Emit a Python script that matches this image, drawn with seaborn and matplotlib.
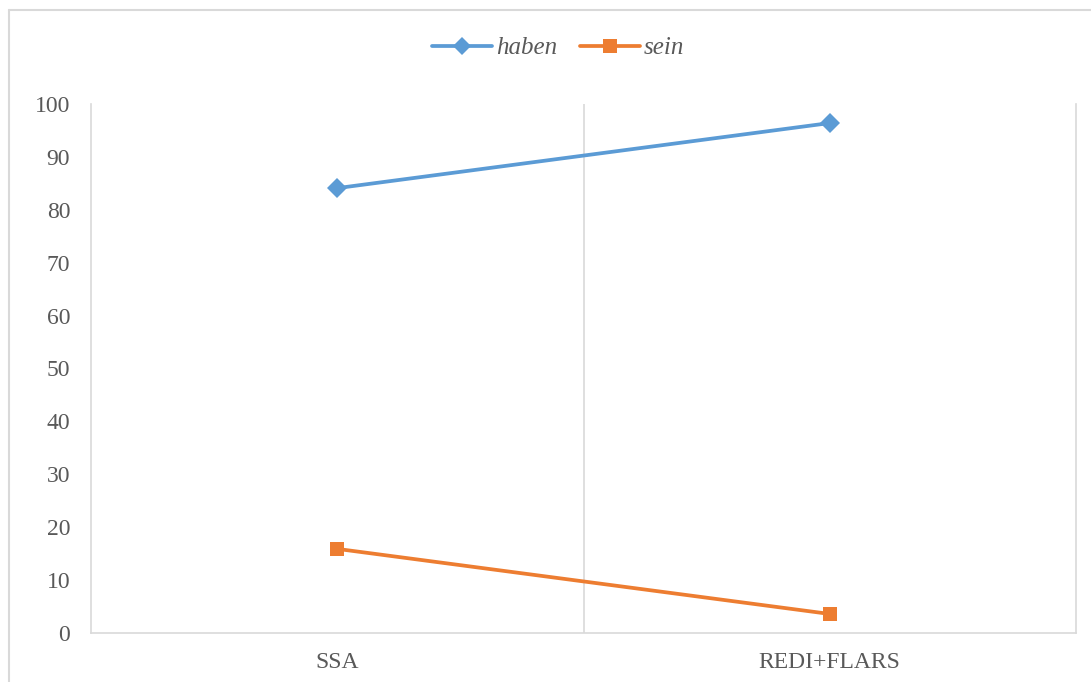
import matplotlib
matplotlib.use("Agg")
import matplotlib.pyplot as plt
from matplotlib.lines import Line2D
import seaborn as sns
import pandas as pd

# Share of auxiliaries per corpus
categories = ["SSA", "REDI+FLARS"]
haben = [84.1, 96.4]
sein = [15.9, 3.6]
series_names = ["haben", "sein"]
yticks = list(range(0, 101, 10))

df = pd.DataFrame({
    "corpus": categories * 2,
    "value": haben + sein,
    "aux": [series_names[0]] * 2 + [series_names[1]] * 2,
})

sns.set_theme(style="white")
plt.rcParams["font.family"] = ["Liberation Serif", "DejaVu Serif"]

blue = "#5B9BD5"
orange = "#ED7D31"
frame = "#D9D9D9"
text_c = "#595959"

fig = plt.figure(figsize=(10.91, 6.82), dpi=100)
ax = fig.add_axes([91 / 1091, 49 / 682, 985 / 1091, 529 / 682])

sns.lineplot(
    data=df, x="corpus", y="value", hue="aux", style="aux",
    palette={"haben": blue, "sein": orange},
    markers={"haben": "D", "sein": "s"}, dashes=False,
    linewidth=2.7, markersize=10.5, markeredgewidth=0,
    ax=ax, legend=False, sort=False,
)

ax.set_xlim(-0.5, 1.5)
ax.set_ylim(0, 100)
ax.set_yticks(yticks)
ax.set_xticks(range(len(categories)))
ax.set_xticklabels(categories)
ax.set_xlabel("")
ax.set_ylabel("")
ax.axvline(0.5, color=frame, linewidth=1.2, zorder=0)

ax.tick_params(axis="y", length=0, pad=15, labelsize=17, labelcolor=text_c)
ax.tick_params(axis="x", length=0, pad=14, labelsize=17, labelcolor=text_c)

for side in ["left", "bottom", "right"]:
    ax.spines[side].set_color(frame)
    ax.spines[side].set_linewidth(1.2)
ax.spines["top"].set_visible(False)

handles = [
    Line2D([], [], color=blue, marker="D", markersize=9.5, linewidth=2.7, markeredgewidth=0),
    Line2D([], [], color=orange, marker="s", markersize=10.5, linewidth=2.7, markeredgewidth=0),
]
fig.legend(
    handles, series_names, loc="center", bbox_to_anchor=(558 / 1091, 1 - 48 / 682),
    ncol=2, frameon=False, handlelength=2.4, columnspacing=0.9, handletextpad=0.15,
    prop={"style": "italic", "size": 18}, labelcolor=text_c,
)

# Outer chart frame
fig.add_artist(Line2D([9 / 1091, 9 / 1091], [0, 1 - 10 / 682], transform=fig.transFigure,
                      color=frame, linewidth=1.5))
fig.add_artist(Line2D([9 / 1091, 1], [1 - 10 / 682, 1 - 10 / 682], transform=fig.transFigure,
                      color=frame, linewidth=1.5))

fig.savefig("out.png", dpi=100, facecolor="white")
